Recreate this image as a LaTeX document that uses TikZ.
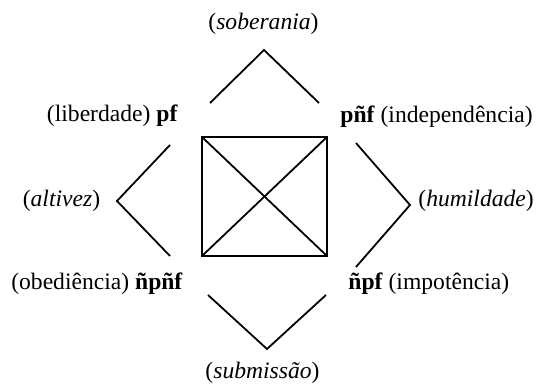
\documentclass[tikz,border=0pt]{standalone}
\usepackage{fontspec}
\setmainfont{Liberation Serif}
\begin{document}
\begin{tikzpicture}[x=0.5pt,y=-0.5pt,
  ln/.style={line width=0.9pt,line join=miter},
  lbl/.style={inner sep=0pt,font=\fontsize{11.8pt}{14pt}\selectfont}]
\useasboundingbox (0,0) rectangle (537,384);
% square
\coordinate (tl) at (202,137);
\coordinate (tr) at (327,137);
\coordinate (br) at (327,256);
\coordinate (bl) at (202,256);
\draw[ln] (tl) -- (tr) -- (br) -- (bl) -- cycle;
\draw[ln] (tl) -- (br);
\draw[ln] (tr) -- (bl);
% chevrons
\coordinate (t1) at (210,103); \coordinate (t2) at (264,50); \coordinate (t3) at (319,103);
\draw[ln] (t1) -- (t2) -- (t3);
\coordinate (b1) at (208,295); \coordinate (b2) at (267,349); \coordinate (b3) at (326,295);
\draw[ln] (b1) -- (b2) -- (b3);
\coordinate (l1) at (170,145); \coordinate (l2) at (117,201); \coordinate (l3) at (170,256);
\draw[ln] (l1) -- (l2) -- (l3);
\coordinate (r1) at (356,143); \coordinate (r2) at (410,205); \coordinate (r3) at (356,267);
\draw[ln] (r1) -- (r2) -- (r3);
% labels
\node[lbl,anchor=center] (sob) at (263.5,24) {(\textit{soberania})};
\node[lbl,anchor=center] (sub) at (262.5,373) {(\textit{submissão})};
\node[lbl,anchor=center] (alt) at (61.5,201) {(\textit{altivez})};
\node[lbl,anchor=west] (hum) at (418,201) {(\textit{humildade})};
\node[lbl,anchor=east] (pf) at (178,116) {(liberdade) \textbf{pf}};
\node[lbl,anchor=west] (pnf) at (340,117) {\textbf{pñf} (independência)};
\node[lbl,anchor=east] (npnf) at (183,283.5) {(obediência) \textbf{ñpñf}};
\node[lbl,anchor=west] (npf) at (348,283.5) {\textbf{ñpf} (impotência)};
\end{tikzpicture}
\end{document}
